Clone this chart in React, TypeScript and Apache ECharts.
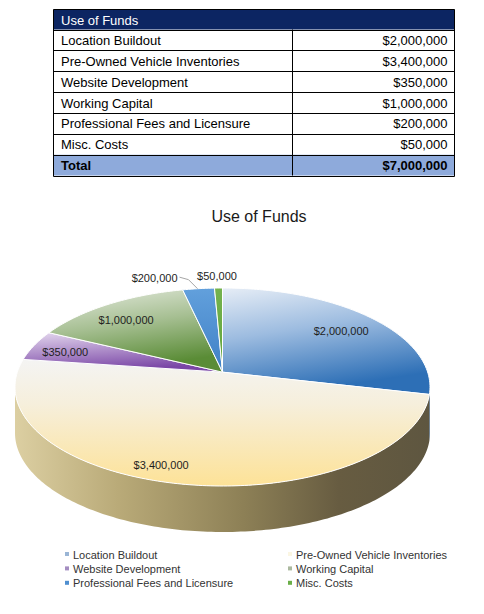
import { useEffect, useRef } from 'react'
import * as echarts from 'echarts'

// data
const ITEMS = [
  'Location Buildout',
  'Pre-Owned Vehicle Inventories',
  'Website Development',
  'Working Capital',
  'Professional Fees and Licensure',
  'Misc. Costs',
]
const VALUES = [2000000, 3400000, 350000, 1000000, 200000, 50000]
const TABLE_TITLE = 'Use of Funds'
const TOTAL_LABEL = 'Total'
const CHART_TITLE = 'Use of Funds'

const FONT = "'Liberation Sans', Arial, sans-serif"
const fmt = (v: number) => '$' + v.toLocaleString('en-US')

const TOTAL = VALUES.reduce((s, v) => s + v, 0)
const STARTS = VALUES.map((_, i) => VALUES.slice(0, i).reduce((s, v) => s + v, 0))

// 3D pie geometry (screen px)
const CX = 222.5
const CY = 387
const RX = 207.5
const RY = 99
const TILT = -0.15 // perspective: where the pie centre sits inside the ellipse
const C = Math.sqrt(1 - TILT * TILT)
const DEPTH = 46
const WALL_FROM = (Math.acos(TILT) * 180) / Math.PI
const WALL_TO = 360 - WALL_FROM

const lin = (stops: [number, string][], x2 = 0, y2 = 1) => ({
  type: 'linear',
  x: 0,
  y: 0,
  x2,
  y2,
  colorStops: stops.map(([offset, color]) => ({ offset, color })),
})

const TOP_FILLS = [
  lin([[0, '#e6edf6'], [0.45, '#9dbce0'], [1, '#2d6fb6']], 0.3, 1),
  lin([[0, '#f4f4f3'], [0.35, '#f6efdc'], [1, '#fde297']]),
  lin([[0, '#e4d8ee'], [1, '#7a46a6']], 0.3, 1),
  lin([[0, '#e6ebe0'], [0.5, '#a6bf92'], [1, '#5a8c36']], 0.3, 1),
  lin([[0, '#62a0dc'], [1, '#3f80c6']]),
  lin([[0, '#74b24e'], [1, '#62a43c']]),
]
const WALL_FILLS = [
  '#2b64a6',
  {
    type: 'linear',
    x: 15,
    y: 0,
    x2: 430,
    y2: 0,
    global: true,
    colorStops: [
      { offset: 0, color: '#dccfa2' },
      { offset: 0.25, color: '#b9aa78' },
      { offset: 0.55, color: '#8d8056' },
      { offset: 0.78, color: '#675c41' },
      { offset: 1, color: '#5e5640' },
    ],
  },
  '#5e3a80',
  '#4c7030',
  '#33679f',
  '#4f8530',
]
const LEGEND_COLORS = ['#9ab5d5', '#fbf6e3', '#a48dc1', '#abb99f', '#4f8fd0', '#6aae48']

// label placement tweaks: [angle shift in degrees, radius on the disc]
const LABEL_TWEAK: [number, number][] = [
  [2, 0.77],
  [7, 0.88],
  [-1.5, 0.82],
  [-2.4, 0.78],
  [0, 1],
  [0, 1],
]

function proj(r: number, deg: number): [number, number] {
  const t = (deg * Math.PI) / 180
  const u = r * Math.sin(t)
  const v = -r * Math.cos(t)
  const d = 1 + TILT * v
  return [CX + (RX * C * u) / d, CY + (RY * (v + TILT)) / d]
}

function arc(a0: number, a1: number): [number, number][] {
  const n = Math.max(2, Math.ceil(a1 - a0))
  const pts: [number, number][] = []
  for (let k = 0; k <= n; k++) pts.push(proj(1, a0 + ((a1 - a0) * k) / n))
  return pts
}

function renderSlice(params: any, api: any) {
  const i = params.dataIndex
  const value = api.value(1)
  const a0 = (STARTS[i] / TOTAL) * 360
  const a1 = a0 + (value / TOTAL) * 360
  const mid = (a0 + a1) / 2
  const share = value / TOTAL
  const children: any[] = []

  const w0 = Math.max(a0, WALL_FROM)
  const w1 = Math.min(a1, WALL_TO)
  if (w1 > w0) {
    const top = arc(w0, w1)
    const bottom = top.map(([x, y]) => [x, y + DEPTH]).reverse()
    children.push({
      type: 'polygon',
      z2: 0,
      shape: { points: [...top, ...bottom] },
      style: { fill: WALL_FILLS[i] },
    })
  }

  children.push({
    type: 'polygon',
    z2: 1,
    shape: { points: [proj(0, 0), ...arc(a0, a1)] },
    style: { fill: TOP_FILLS[i], stroke: '#ffffff', lineWidth: 1, lineJoin: 'round' },
  })

  const text = fmt(value)
  const textStyle = { fontFamily: FONT, fontSize: 11, fill: '#1e1e1e' }
  if (share >= 0.04) {
    const [da, r] = LABEL_TWEAK[i]
    const [x, y] = proj(r, mid + da)
    children.push({
      type: 'text',
      z2: 10,
      x,
      y,
      style: { ...textStyle, text, align: 'center', verticalAlign: 'middle' },
    })
  } else if (share < 0.01) {
    const [x, y] = proj(1, mid)
    children.push({
      type: 'text',
      z2: 10,
      x: x - 1.5,
      y: y - 12.5,
      style: { ...textStyle, text, align: 'center', verticalAlign: 'middle' },
    })
  } else {
    const [x, y] = proj(1, mid)
    children.push({
      type: 'polyline',
      z2: 9,
      shape: { points: [[x - 1, y], [x - 10, y - 9], [x - 19, y - 11.5]] },
      style: { stroke: '#a6a6a6', lineWidth: 1, fill: 'none' },
    })
    children.push({
      type: 'text',
      z2: 10,
      x: x - 21,
      y: y - 11,
      style: { ...textStyle, text, align: 'right', verticalAlign: 'middle' },
    })
  }
  return { type: 'group', children }
}

// table
const T_LEFT = 53.5
const T_RIGHT = 454.5
const T_DIV = 292.5
const T_TOP = 9.5
const HEAD_H = 20
const ROW_H = 20.86

function tableGraphics() {
  const rows = [...ITEMS.map((name, i) => [name, fmt(VALUES[i])]), [TOTAL_LABEL, fmt(TOTAL)]]
  const bodyTop = T_TOP + HEAD_H
  const bottom = bodyTop + rows.length * ROW_H
  const w = T_RIGHT - T_LEFT
  const els: any[] = [
    { type: 'rect', shape: { x: T_LEFT, y: T_TOP, width: w, height: HEAD_H }, style: { fill: '#0c2562' } },
    {
      type: 'rect',
      shape: { x: T_LEFT, y: bodyTop + (rows.length - 1) * ROW_H, width: w, height: ROW_H },
      style: { fill: '#8eaadb' },
    },
    {
      type: 'text',
      x: T_LEFT + 7.5,
      y: T_TOP + HEAD_H / 2 + 0.5,
      style: { text: TABLE_TITLE, fontFamily: FONT, fontSize: 13, fill: '#ffffff', verticalAlign: 'middle' },
    },
  ]
  rows.forEach(([name, val], i) => {
    const y = bodyTop + i * ROW_H
    const bold = i === rows.length - 1
    const base = { fontFamily: FONT, fontSize: 13, fill: '#000000', verticalAlign: 'middle', fontWeight: bold ? 'bold' : 'normal' }
    els.push({ type: 'text', x: T_LEFT + 7.5, y: y + ROW_H / 2 + 0.5, style: { ...base, text: name } })
    els.push({ type: 'text', x: T_RIGHT - 7, y: y + ROW_H / 2 + 0.5, style: { ...base, text: val, align: 'right' } })
    els.push({
      type: 'line',
      shape: { x1: T_LEFT, y1: Math.round(y) + 0.5, x2: T_RIGHT, y2: Math.round(y) + 0.5 },
      style: { stroke: '#000', lineWidth: 1 },
    })
  })
  els.push({
    type: 'line',
    shape: { x1: T_DIV, y1: bodyTop, x2: T_DIV, y2: bottom },
    style: { stroke: '#000', lineWidth: 1 },
  })
  els.push({
    type: 'rect',
    shape: { x: T_LEFT, y: T_TOP, width: w, height: Math.round(bottom) + 0.5 - T_TOP },
    style: { fill: 'none', stroke: '#000', lineWidth: 1 },
  })
  return els
}

function legendGraphics() {
  const els: any[] = []
  ITEMS.forEach((name, i) => {
    const col = i % 2
    const row = Math.floor(i / 2)
    const mx = col === 0 ? 65 : 288
    const y = 554 + row * 14.4
    els.push({ type: 'rect', shape: { x: mx, y: y - 2, width: 4, height: 4 }, style: { fill: LEGEND_COLORS[i] } })
    els.push({
      type: 'text',
      x: mx + 8,
      y: y + 0.5,
      style: { text: name, fontFamily: FONT, fontSize: 11, fill: '#333333', verticalAlign: 'middle' },
    })
  })
  return els
}

function buildOption(): echarts.EChartsOption {
  return {
    animation: false,
    title: {
      text: CHART_TITLE,
      left: 254,
      top: 203,
      textAlign: 'center',
      textStyle: { fontFamily: FONT, fontSize: 16, fontWeight: 'normal', color: '#1a1a1a' },
    },
    graphic: [...tableGraphics(), ...legendGraphics()],
    series: [
      {
        type: 'custom',
        coordinateSystem: 'none',
        silent: true,
        renderItem: renderSlice as any,
        data: VALUES.map((v, i) => [i, v]),
      },
    ],
  }
}

export default function App() {
  const ref = useRef<HTMLDivElement>(null)
  useEffect(() => {
    const el = ref.current
    if (!el) return
    const chart = echarts.init(el, undefined, { renderer: 'svg' })
    chart.setOption(buildOption())
    return () => chart.dispose()
  }, [])
  return (
    <div
      ref={ref}
      style={{ position: 'absolute', left: 0, top: 0, width: 484, height: 614, background: '#ffffff' }}
    />
  )
}
